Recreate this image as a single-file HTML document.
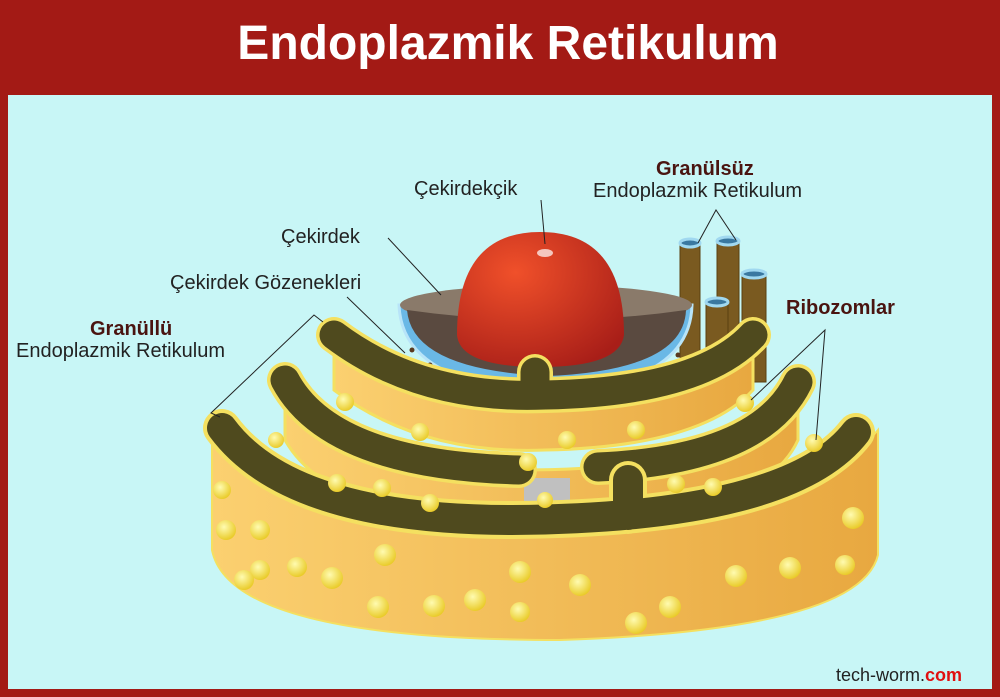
<!DOCTYPE html><html><head><meta charset="utf-8"><style>
body{margin:0;width:1000px;height:697px;background:#a31a15;overflow:hidden;font-family:"Liberation Sans",sans-serif}
#t{position:absolute;left:0;top:16px;width:1016px;text-align:center;color:#fff;font-weight:bold;font-size:48px}
#p{position:absolute;left:8px;top:95px;width:984px;height:594px;background:#c8f6f6}
.l{position:absolute;font-size:20px;color:#222;white-space:nowrap}
.b{font-weight:bold;color:#4a1410}
</style></head><body>
<div id="t">Endoplazmik Retikulum</div>
<div id="p"></div>
<svg style="position:absolute;left:0;top:0" width="1000" height="697">
<defs>
<radialGradient id="r" cx="0.35" cy="0.3" r="0.8"><stop offset="0" stop-color="#f0502a"/><stop offset="1" stop-color="#a81e18"/></radialGradient>
<linearGradient id="y" x1="0" x2="1"><stop offset="0" stop-color="#fbd070"/><stop offset="1" stop-color="#e8a840"/></linearGradient>
<radialGradient id="bd" cx="0.4" cy="0.35" r="0.7"><stop offset="0" stop-color="#fffbb0"/><stop offset="1" stop-color="#e8c820"/></radialGradient>
</defs>
<g fill="#7a5a20" stroke="#5a4010"><rect x="680" y="242" width="20" height="130"/><rect x="717" y="240" width="22" height="130"/><rect x="742" y="272" width="24" height="110"/><rect x="706" y="300" width="22" height="80"/></g>
<g fill="#3a78a0" stroke="#a0d8f0" stroke-width="3"><ellipse cx="690" cy="243" rx="10" ry="4"/><ellipse cx="728" cy="241" rx="11" ry="4"/><ellipse cx="754" cy="274" rx="12" ry="4"/><ellipse cx="717" cy="302" rx="11" ry="4"/></g>
<path d="M399,305 Q402,385 548,392 Q690,385 692,305 Z" fill="#6ab8e6" stroke="#b8e4f8" stroke-width="3"/>
<ellipse cx="546" cy="305" rx="146" ry="20" fill="#8a7a6a"/>
<path d="M407,310 Q412,370 548,376 Q684,370 686,310 Q548,330 407,310Z" fill="#5a4a40"/>
<g fill="#5a3a20"><circle cx="412" cy="350" r="2.5"/><circle cx="430" cy="365" r="2.5"/><circle cx="450" cy="372" r="2.5"/><circle cx="470" cy="378" r="2.5"/><circle cx="630" cy="378" r="2.5"/><circle cx="655" cy="370" r="2.5"/><circle cx="678" cy="355" r="2.5"/></g>
<path d="M457,335 Q457,232 540,232 Q624,232 624,335 Q620,367 540,367 Q460,367 457,335Z" fill="url(#r)"/>
<ellipse cx="545" cy="253" rx="8" ry="4" fill="#fff" opacity=".7"/>
<g stroke="#f4e060" stroke-width="3" fill="url(#y)">
<path d="M334,335 Q420,400 545,395 Q700,392 753,335 L753,390 Q700,447 545,450 Q420,455 334,390Z"/>
</g>
<g fill="none" stroke-linecap="round">
<path d="M334,335 Q420,400 545,395 Q700,392 753,335 M535,372 L535,395" stroke="#f4e060" stroke-width="36"/>
<path d="M334,335 Q420,400 545,395 Q700,392 753,335 M535,372 L535,395" stroke="#4f4a1e" stroke-width="29"/>
</g>
<path d="M285,380 Q330,465 519,470 Q760,470 798,382 L798,440 Q760,525 519,525 Q330,520 285,440Z" fill="url(#y)" stroke="#f4e060" stroke-width="3"/>
<rect x="524" y="478" width="46" height="35" fill="#c0c0c0"/>
<g fill="none" stroke-linecap="round">
<path d="M285,380 Q330,465 519,470 M598,467 Q760,460 798,382" stroke="#f4e060" stroke-width="36"/>
<path d="M285,380 Q330,465 519,470 M598,467 Q760,460 798,382" stroke="#4f4a1e" stroke-width="29"/>
</g>
<path d="M212,425 L212,550 Q230,640 560,640 Q860,630 878,555 L878,430 Q790,535 512,537 Q290,537 212,425Z" fill="url(#y)" stroke="#f4e060" stroke-width="2"/>
<g fill="none" stroke-linecap="round">
<path d="M222,428 Q290,520 512,520 Q790,518 856,432 M628,480 L628,515" stroke="#f4e060" stroke-width="38"/>
<path d="M222,428 Q290,520 512,520 Q790,518 856,432 M628,480 L628,515" stroke="#4f4a1e" stroke-width="30"/>
</g>
<g fill="url(#bd)">
<circle cx="226" cy="530" r="10"/><circle cx="222" cy="490" r="9"/><circle cx="260" cy="530" r="10"/><circle cx="332" cy="578" r="11"/><circle cx="378" cy="607" r="11"/><circle cx="434" cy="606" r="11"/><circle cx="520" cy="572" r="11"/><circle cx="580" cy="585" r="11"/><circle cx="636" cy="623" r="11"/><circle cx="670" cy="607" r="11"/><circle cx="736" cy="576" r="11"/><circle cx="790" cy="568" r="11"/><circle cx="853" cy="518" r="11"/><circle cx="845" cy="565" r="10"/><circle cx="260" cy="570" r="10"/><circle cx="385" cy="555" r="11"/><circle cx="475" cy="600" r="11"/><circle cx="520" cy="612" r="10"/><circle cx="297" cy="567" r="10"/><circle cx="244" cy="580" r="10"/>
<circle cx="345" cy="402" r="9"/><circle cx="276" cy="440" r="8"/><circle cx="420" cy="432" r="9"/><circle cx="528" cy="462" r="9"/><circle cx="567" cy="440" r="9"/><circle cx="636" cy="430" r="9"/><circle cx="745" cy="403" r="9"/><circle cx="814" cy="443" r="9"/><circle cx="337" cy="483" r="9"/><circle cx="382" cy="488" r="9"/><circle cx="430" cy="503" r="9"/><circle cx="676" cy="484" r="9"/><circle cx="713" cy="487" r="9"/><circle cx="545" cy="500" r="8"/>
</g>
<g stroke="#222" fill="none" stroke-width="1">
<polyline points="388,238 441,295"/><polyline points="347,297 405,353"/>
<polyline points="541,200 545,244"/>
<polyline points="698,243 716,210 736,240"/>
<polyline points="323,322 314,315 211,413 220,417"/>
<polyline points="751,400 825,330 816,440"/>
</g>
</svg>
<div class="l" style="left:414px;top:178px">Çekirdekçik</div>
<div class="l" style="left:281px;top:226px">Çekirdek</div>
<div class="l" style="left:170px;top:272px">Çekirdek Gözenekleri</div>
<div class="l b" style="left:90px;top:318px">Granüllü</div>
<div class="l" style="left:16px;top:340px">Endoplazmik Retikulum</div>
<div class="l b" style="left:656px;top:158px">Granülsüz</div>
<div class="l" style="left:593px;top:180px">Endoplazmik Retikulum</div>
<div class="l b" style="left:786px;top:297px">Ribozomlar</div>
<div class="l" style="left:836px;top:665px;font-size:18px">tech-worm.<b style="color:#e01010">com</b></div>
</body></html>
